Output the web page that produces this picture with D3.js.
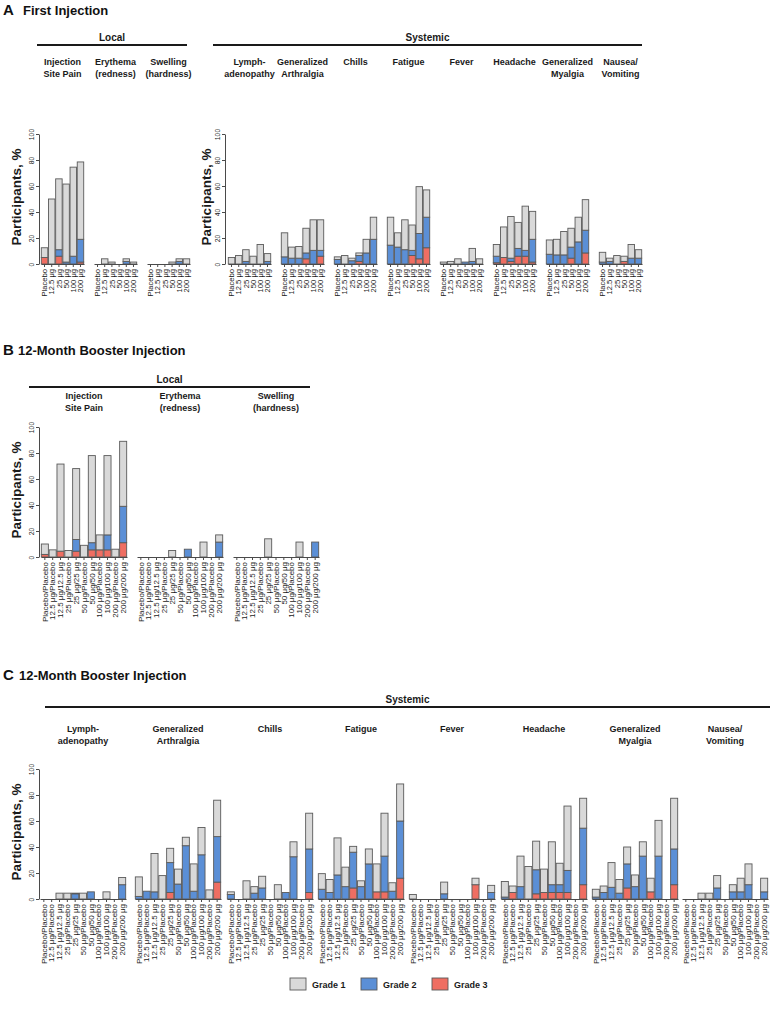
<!DOCTYPE html>
<html><head><meta charset="utf-8">
<script src="https://cdn.jsdelivr.net/npm/d3@7"></script>
<style>
body{margin:0;background:#fff}
svg{display:block}
text{font-family:"Liberation Sans",Arial,Helvetica,sans-serif}
</style>
</head><body>
<svg id="chart" width="770" height="1019"></svg>
<script>
// ---------- DATA ----------
const gradeNames = ["Grade 1", "Grade 2", "Grade 3"];
const gradeColors = ["#d9d9d9", "#5b8fd6", "#ef6e62"];
const yTicks = [0, 20, 40, 60, 80, 100];

const firstDoses = ["Placebo", "12.5 μg", "25 μg", "50 μg", "100 μg", "200 μg"];
const boosterDoses = ["Placebo/Placebo", "12.5 μg/Placebo", "12.5 μg/12.5 μg", "25 μg/Placebo", "25 μg/25 μg",
  "50 μg/Placebo", "50 μg/50 μg", "100 μg/Placebo", "100 μg/100 μg", "200 μg/Placebo", "200 μg/200 μg"];

const localTitles = [["Injection", "Site Pain"], ["Erythema", "(redness)"], ["Swelling", "(hardness)"]];
const systemicTitles = [["Lymph-", "adenopathy"], ["Generalized", "Arthralgia"], ["Chills"], ["Fatigue"],
  ["Fever"], ["Headache"], ["Generalized", "Myalgia"], ["Nausea/", "Vomiting"]];

// each entry: [grade 1, grade 2, grade 3] in % of participants
// Panel A - first injection, local
const aPain      = [[7.5,0,5],[50,0,0],[54.5,5,6],[60,1.5,0],[68.5,6,0],[59.5,17.5,1.5]];
const aErythema  = [[0,0,0],[4,0,0],[1.5,0,0],[0,0,0],[2,2,0],[1.5,0,0]];
const aSwelling  = [[0,0,0],[0,0,0],[0,0,0],[1.5,0,0],[2,2,0],[4,0,0]];
// Panel A - first injection, systemic
const aLymph     = [[5,0,0],[6.5,0,0],[9,2,0],[6,0,0],[15,0,0],[6,2,0]];
const aArthralgia= [[18.5,5.5,0],[8.5,4.5,0],[9,4.5,0],[19,4.5,4],[23.5,10.5,0],[23.5,4.5,6]];
const aChills    = [[2,3.5,0],[6.5,0,0],[2,2.5,0],[2,4.5,2],[10.5,8.5,0],[17,19,0]];
const aFatigue   = [[21.5,14.5,0],[11,13,0],[23,11,0],[19.5,4,6.5],[36,19.5,4],[21,23.5,12.5]];
const aFever     = [[1.5,0,0],[2,0,0],[4,0,0],[0,1.5,0],[10,2,0],[4,0,0]];
const aHeadache  = [[9,5,1],[23.5,0,5],[32,2.5,2],[20,6,6],[34,4.5,6],[21.5,17.5,1.5]];
const aMyalgia   = [[11,7.5,0],[12,7,0],[18,7,0],[14.5,8.5,4.5],[19,17,0],[23.5,17.5,8.5]];
const aNausea    = [[7.5,1.5,0],[2.5,2,0],[6.5,0,0],[4,0,2],[10.5,4.5,0],[6.5,4.5,0]];
// Panel B - 12-month booster, local
const bPain      = [[8,0,2],[5.5,0,0],[67,0,4.5],[5,0,0],[54.5,9,4.5],[9,0,0],[67,5.5,5.5],[11.5,0,5.5],[61,11.5,5.5],[6,0,0],[50,28,11]];
const bErythema  = [[0,0,0],[0,0,0],[0,0,0],[0,0,0],[5,0,0],[0,0,0],[0,6,0],[0,0,0],[11.5,0,0],[0,0,0],[5.5,11.5,0]];
const bSwelling  = [[0,0,0],[0,0,0],[0,0,0],[0,0,0],[14,0,0],[0,0,0],[0,0,0],[0,0,0],[11.5,0,0],[0,0,0],[0,11.5,0]];
// Panel C - 12-month booster, systemic
const cLymph     = [[0,0,0],[0,0,0],[4.5,0,0],[4.5,0,0],[0.5,4,0],[4.5,0,0],[0,5.5,0],[0,0,0],[5.5,0,0],[0,0,0],[5.5,11,0]];
const cArthralgia= [[15,2,0],[0,6,0],[29.5,5.5,0],[18,0,0],[11,23,5],[11.5,11.5,0],[6.5,41,0],[21,6,0],[21,34,0],[7,0,0],[28,35,13]];
const cChills    = [[2,3.5,0],[0,0,0],[14,0,0],[5,4.5,0],[9,8.5,0],[0,0,0],[11,0,0],[0,5,0],[11.5,32.5,0],[0,0,0],[27.5,33.5,5]];
const cFatigue   = [[12,7.5,0],[10,5,0],[28.5,18.5,0],[15,9.5,0],[4.5,27.5,8.5],[4.5,9.5,0],[11.5,27,0],[21.5,0,5.5],[33,27.5,5.5],[6.5,6,0],[28.5,44,16]];
const cFever     = [[3.5,0,0],[0,0,0],[0,0,0],[0,0,0],[9,4,0],[0,0,0],[0,0,0],[0,0,0],[5,0,11],[0,0,0],[5.5,5,0]];
const cHeadache  = [[12,1.5,0],[5,0,5],[23.5,9.5,0],[25,0,0],[22,18.5,4],[18,0,5],[33,6,5],[16.5,6,5],[49.5,17,5],[0,0,0],[23,43.5,11]];
const cMyalgia   = [[6,1.5,0],[5,5,0],[19,9,0],[10.5,4.5,0],[13,18.5,8.5],[9,9.5,0],[11,33,0],[10.5,0,5.5],[27.5,33,0],[0,0,0],[39,27.5,11]];
const cNausea    = [[0,0,0],[0,0,0],[4.5,0,0],[4.5,0,0],[9.5,8.5,0],[0,0,0],[5.5,5.5,0],[10.5,5.5,0],[16,11,0],[0,0,0],[10.5,5.5,0]];

// ---------- DRAWING ----------
const svg = d3.select("#chart");
const FONT_TXT = "#1a1a1a";
const AX = "#4a4a4a";

function yAxis(yScale, x, labelX) {
  const g = svg.append("g").attr("transform", `translate(${x},0)`)
    .call(d3.axisLeft(yScale).tickValues(yTicks).tickSize(3).tickSizeOuter(0));
  g.select(".domain").attr("stroke", AX);
  g.selectAll(".tick line").attr("stroke", AX);
  g.selectAll(".tick text").attr("transform", "rotate(-90)").attr("x", 0).attr("y", -5)
    .attr("dy", 0).attr("text-anchor", "middle").attr("font-size", 6.8).attr("fill", FONT_TXT);
  const [y0, y1] = yScale.range();
  svg.append("text").attr("transform", `translate(${labelX},${(y0 + y1) / 2 - 2}) rotate(-90)`)
    .attr("text-anchor", "middle").attr("font-size", 13.5).attr("font-weight", "bold")
    .attr("fill", FONT_TXT).text("Participants, %");
}

function subplot(yScale, x0, w, cats, data, fs) {
  const x = d3.scaleBand().domain(cats).range([x0, x0 + w]).paddingInner(0.1).paddingOuter(0.04);
  const g = svg.append("g");
  data.forEach((d, i) => {
    let base = 0;
    [2, 1, 0].forEach(k => {
      const v = d[k];
      if (v > 0) {
        g.append("rect")
          .attr("x", x(cats[i])).attr("width", x.bandwidth())
          .attr("y", yScale(base + v)).attr("height", yScale(base) - yScale(base + v))
          .attr("fill", gradeColors[k]).attr("stroke", "#5a5a5a").attr("stroke-width", 0.9);
      }
      base += v;
    });
  });
  const ax = svg.append("g").attr("transform", `translate(0,${yScale(0)})`)
    .call(d3.axisBottom(x).tickSize(3).tickSizeOuter(0));
  ax.select(".domain").attr("stroke", AX);
  ax.selectAll(".tick line").attr("stroke", AX);
  ax.selectAll(".tick text").attr("transform", "rotate(-90)").attr("x", -5).attr("y", 0)
    .attr("dy", "0.35em").attr("text-anchor", "end").attr("font-size", fs).attr("fill", FONT_TXT);
  return x0 + w / 2;
}

function title(cx, lines, y0) {
  lines.forEach((t, i) => svg.append("text").attr("x", cx).attr("y", y0 + i * 11.5)
    .attr("text-anchor", "middle").attr("font-size", 9).attr("font-weight", "bold")
    .attr("fill", FONT_TXT).text(t));
}

function header(x1, x2, y, label) {
  svg.append("line").attr("x1", x1).attr("x2", x2).attr("y1", y).attr("y2", y)
    .attr("stroke", "#1a1a1a").attr("stroke-width", 2);
  svg.append("text").attr("x", (x1 + x2) / 2).attr("y", y - 4.5).attr("text-anchor", "middle")
    .attr("font-size", 10).attr("font-weight", "bold").attr("fill", FONT_TXT).text(label);
}

function panelTitle(letter, txt, y, tx) {
  svg.append("text").attr("x", 3).attr("y", y).attr("font-size", 15).attr("font-weight", "bold")
    .attr("fill", "#111").text(letter);
  svg.append("text").attr("x", tx).attr("y", y).attr("font-size", 13).attr("font-weight", "bold")
    .attr("fill", "#111").text(txt);
}

// ----- Panel A -----
panelTitle("A", "First Injection", 15, 23);
const yA = d3.scaleLinear().domain([0, 100]).range([264, 134]);
header(37, 187, 45, "Local");
header(213, 642, 45, "Systemic");
yAxis(yA, 39, 21);
yAxis(yA, 225, 211);
[aPain, aErythema, aSwelling].forEach((d, i) => {
  const cx = subplot(yA, 41 + i * 53, 43, firstDoses, d, 7.6);
  title(cx, localTitles[i], 65);
});
[aLymph, aArthralgia, aChills, aFatigue, aFever, aHeadache, aMyalgia, aNausea].forEach((d, i) => {
  const cx = subplot(yA, 228 + i * 53, 43, firstDoses, d, 7.6);
  title(cx, systemicTitles[i], 65);
});

// ----- Panel B -----
panelTitle("B", "12-Month Booster Injection", 355, 18);
const yB = d3.scaleLinear().domain([0, 100]).range([557, 427]);
header(29, 310, 387, "Local");
yAxis(yB, 39, 21);
[bPain, bErythema, bSwelling].forEach((d, i) => {
  const cx = subplot(yB, 41 + i * 96, 86, boosterDoses, d, 8);
  title(cx, localTitles[i], 399);
});

// ----- Panel C -----
panelTitle("C", "12-Month Booster Injection", 680, 19);
const yC = d3.scaleLinear().domain([0, 100]).range([899, 769]);
header(45, 770, 707, "Systemic");
yAxis(yC, 39, 21);
const cStarts = [40, 135, 227, 318, 409, 501, 592, 682];
[cLymph, cArthralgia, cChills, cFatigue, cFever, cHeadache, cMyalgia, cNausea].forEach((d, i) => {
  const cx = subplot(yC, cStarts[i], 86, boosterDoses, d, 8);
  title(cx, systemicTitles[i], 732);
});

// ----- Legend -----
const legX = [290, 361, 432];
gradeNames.forEach((n, i) => {
  svg.append("rect").attr("x", legX[i]).attr("y", 978).attr("width", 16).attr("height", 12)
    .attr("fill", gradeColors[i]).attr("stroke", "#5a5a5a").attr("stroke-width", 0.9);
  svg.append("text").attr("x", legX[i] + 22).attr("y", 988).attr("font-size", 9)
    .attr("font-weight", "bold").attr("fill", FONT_TXT).text(n);
});
</script>
</body></html>
